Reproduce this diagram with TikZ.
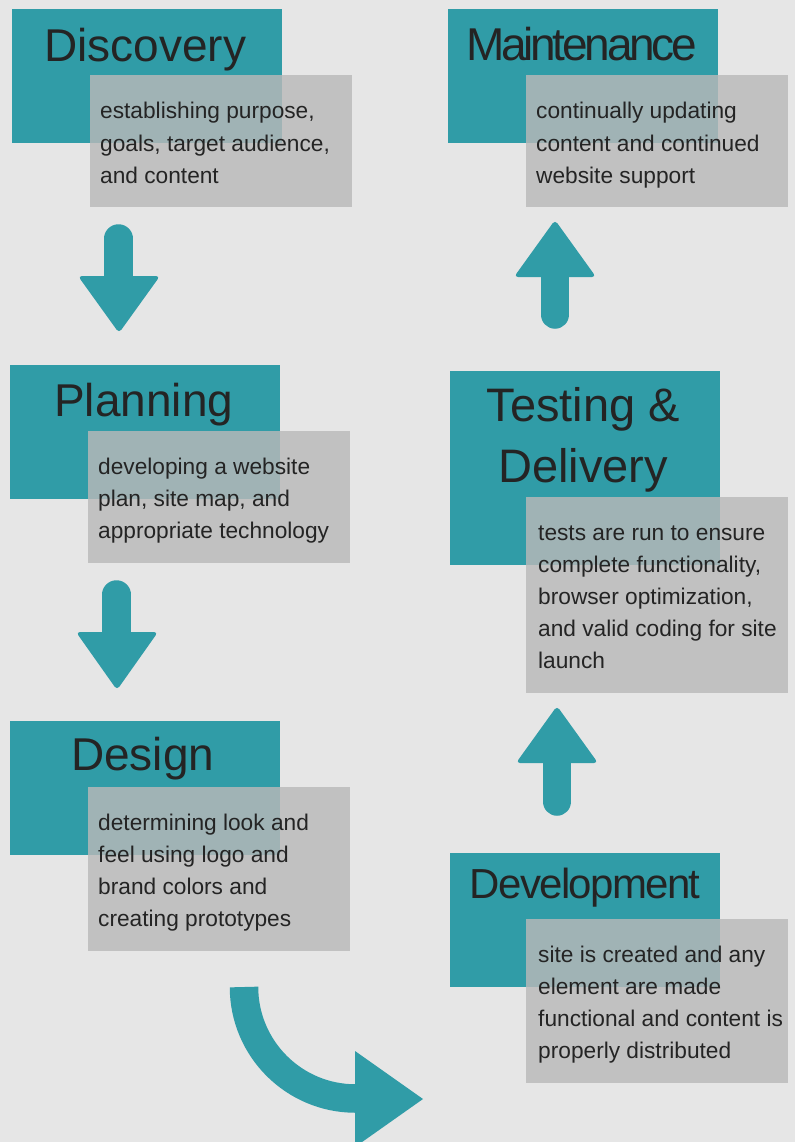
\documentclass[tikz,border=0pt]{standalone}
\usepackage{fontspec}
\setmainfont{Liberation Sans}
\definecolor{bg}{RGB}{230,230,230}
\definecolor{tealc}{RGB}{48,156,167}
\definecolor{boxg}{RGB}{185,185,185}
\definecolor{ink}{RGB}{36,36,36}
\begin{document}
\begin{tikzpicture}[x=1pt,y=-1pt,
  tealbox/.style={fill=tealc, draw=none, inner sep=0pt, minimum width=270pt, minimum height=134pt, anchor=north west},
  greybox/.style={fill=boxg, fill opacity=0.82, draw=none, inner sep=0pt, minimum width=262pt, anchor=north west},
  title/.style={inner sep=0pt, text=ink, font=\fontsize{46}{61}\selectfont, anchor=north, align=center},
  body/.style={inner sep=0pt, text=ink, font=\fontsize{22.7}{32}\selectfont, anchor=north west, align=left},
  shaft/.style={draw=tealc, line width=28.5pt, line cap=round},
  arrowhead/.style={fill=tealc, draw=none, rounded corners=4pt},
  curveband/.style={draw=tealc, line width=28.5pt, line cap=butt}]
\fill[bg] (0,0) rectangle (795,1142);
\useasboundingbox (0,0) rectangle (795,1142);
\clip (0,0) rectangle (795,1142);

% Discovery
\node[tealbox] (disc) at (12,9) {};
\node[title] (discT) at ([shift={(-2,9.3)}]disc.north) {\strut Discovery};
\node[greybox, minimum height=132pt] (discB) at (90,75) {};
\node[body] (discX) at ([shift={(10,21.4)}]discB.north west) {\strut establishing purpose,\\goals, target audience,\\and content};

% Planning
\node[tealbox] (plan) at (10,365) {};
\node[title] (planT) at ([shift={(-1.5,8.3)}]plan.north) {\strut Planning};
\node[greybox, minimum height=132pt] (planB) at (88,431) {};
\node[body] (planX) at ([shift={(10,21)}]planB.north west) {\strut developing a website\\plan, site map, and\\appropriate technology};

% Design
\node[tealbox] (des) at (10,721) {};
\node[title] (desT) at ([shift={(-2.5,6.3)}]des.north) {\strut Design};
\node[greybox, minimum height=164pt] (desB) at (88,787) {};
\node[body] (desX) at ([shift={(10,20.4)}]desB.north west) {\strut determining look and\\feel using logo and\\brand colors and\\creating prototypes};

% Maintenance
\node[tealbox] (main) at (448,9) {};
\node[title, font=\fontsize{46}{61}\selectfont\addfontfeature{LetterSpace=-7}] (mainT) at ([shift={(-1.5,8.3)}]main.north) {\strut Maintenance};
\node[greybox, minimum height=132pt] (mainB) at (526,75) {};
\node[body] (mainX) at ([shift={(10,21.4)}]mainB.north west) {\strut continually updating\\content and continued\\website support};

% Testing & Delivery
\node[tealbox, minimum height=194pt] (test) at (450,371) {};
\node[title, font=\fontsize{47}{61}\selectfont] (testT) at ([shift={(-2,7.3)}]test.north) {\strut Testing \&\\Delivery};
\node[greybox, minimum height=196pt] (testB) at (526,497) {};
\node[body] (testX) at ([shift={(12,21)}]testB.north west) {\strut tests are run to ensure\\complete functionality,\\browser optimization,\\and valid coding for site\\launch};

% Development
\node[tealbox] (dev) at (450,853) {};
\node[title, font=\fontsize{42}{61}\selectfont\addfontfeature{LetterSpace=-4}] (devT) at ([shift={(0,2.3)}]dev.north) {\strut Development};
\node[greybox, minimum height=164pt] (devB) at (526,919) {};
\node[body] (devX) at ([shift={(12,21)}]devB.north west) {\strut site is created and any\\element are made\\functional and content is\\properly distributed};

% arrow Discovery -> Planning
\coordinate (a1s) at (118.5,238.5);
\coordinate (a1e) at (118.5,285);
\draw[shaft] (a1s) -- (a1e);
\fill[arrowhead] (78,276) -- (160,276) -- (119,333) -- cycle;

% arrow Planning -> Design
\coordinate (a2s) at (116.5,594.5);
\coordinate (a2e) at (116.5,640);
\draw[shaft] (a2s) -- (a2e);
\fill[arrowhead] (76,632) -- (158,632) -- (117,690) -- cycle;

% arrow Design -> Development (curved)
\coordinate (a3s) at (244,987);
\draw[curveband] (a3s) arc[start angle=180, end angle=90, radius=111.5] coordinate (a3e);
\fill[tealc] (355,1051) -- (355,1147) -- (423,1099) -- cycle;

% arrow Development -> Testing
\coordinate (a4s) at (557,801.5);
\coordinate (a4e) at (557,755);
\draw[shaft] (a4s) -- (a4e);
\fill[arrowhead] (516,763) -- (598,763) -- (557,706) -- cycle;

% arrow Testing -> Maintenance
\coordinate (a5s) at (555,314.5);
\coordinate (a5e) at (555,268);
\draw[shaft] (a5s) -- (a5e);
\fill[arrowhead] (514,277) -- (596,277) -- (555,220) -- cycle;
\end{tikzpicture}
\end{document}
